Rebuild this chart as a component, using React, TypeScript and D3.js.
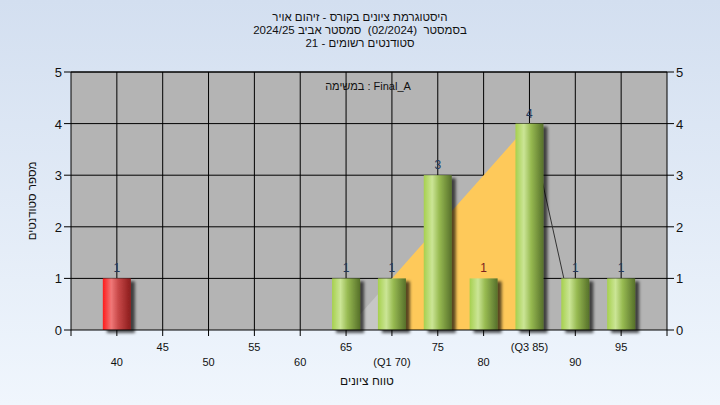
import React from 'react';
import * as d3 from 'd3';

const titleLines = [
  'היסטוגרמת ציונים בקורס - זיהום אויר',
  'בסמסטר  (02/2024)  סמסטר אביב 2024/25',
  'סטודנטים רשומים - 21',
];
const legendText = 'במשימה : Final_A';
const yAxisTitle = 'מספר סטודנטים';
const xAxisTitle = 'טווח ציונים';

const categories = [40, 45, 50, 55, 60, 65, 70, 75, 80, 85, 90, 95];
const counts = [1, 0, 0, 0, 0, 1, 1, 3, 1, 4, 1, 1];
const tickLabels = ['40', '45', '50', '55', '60', '65', '(Q1 70)', '75', '80', '(Q3 85)', '90', '95'];
const failing = [40];
const yTicks = [0, 1, 2, 3, 4, 5];

const curveX = [65, 70, 75, 80, 85, 90];
const curveY = [0, 1, 2, 3, 4, 0];
const q1 = 70;
const q3 = 85;

const W = 720, H = 405;
const left = 71, right = 667, top = 72, bottom = 330;
const font = '"Liberation Sans", Arial, sans-serif';

export default function App() {
  const x = d3.scaleLinear().domain([35, 100]).range([left, right]);
  const y = d3.scaleLinear().domain([0, 5]).range([bottom, top]);
  const barW = 28;

  const pts = curveX.map((cx, i) => [cx, curveY[i]] as [number, number]);
  const inQ = pts.filter(p => p[0] >= q1 && p[0] <= q3);
  const yellowPts: [number, number][] = [[q1, 0], ...inQ, [q3, 0]];
  const leftPts: [number, number][] = [...pts.filter(p => p[0] <= q1), [q1, 0]];
  const rightPts = pts.filter(p => p[0] >= q3);

  const poly = d3.line<[number, number]>().x(d => x(d[0])).y(d => y(d[1]));

  return (
    <svg width={W} height={H} style={{ position: 'absolute', left: 0, top: 0 }} fontFamily={font}>
      <defs>
        <linearGradient id="bg" x1="0" y1="0" x2="0" y2="1">
          <stop offset="0" stopColor="#d3dff0" />
          <stop offset="1" stopColor="#f0f6fd" />
        </linearGradient>
        <linearGradient id="gGreen" x1="0" y1="0" x2="1" y2="0">
          <stop offset="0" stopColor="#a6d04e" />
          <stop offset="0.3" stopColor="#cbe596" />
          <stop offset="0.55" stopColor="#98bb52" />
          <stop offset="1" stopColor="#56702a" />
        </linearGradient>
        <linearGradient id="gRed" x1="0" y1="0" x2="1" y2="0">
          <stop offset="0" stopColor="#ff1a1a" />
          <stop offset="0.3" stopColor="#f07878" />
          <stop offset="0.55" stopColor="#c84848" />
          <stop offset="1" stopColor="#8a1c1c" />
        </linearGradient>
        <filter id="shadow" x="-30%" y="-30%" width="160%" height="160%">
          <feDropShadow dx="4" dy="3" stdDeviation="1.8" floodColor="#000" floodOpacity="0.65" />
        </filter>
      </defs>
      <rect x={0} y={0} width={W} height={H} fill="url(#bg)" />

      {titleLines.map((t, i) => (
        <text key={i} x={360} y={21 + i * 13} textAnchor="middle" fontSize={11.5} fill="#111" direction="rtl" style={{ whiteSpace: 'pre' }}>
          {t}
        </text>
      ))}

      <rect x={left} y={top} width={right - left} height={bottom - top} fill="#b4b4b4" />
      {yTicks.slice(1).map(v => (
        <line key={'hy' + v} x1={left} x2={right} y1={y(v)} y2={y(v)} stroke="#000" strokeWidth={1} />
      ))}
      {categories.map(c => (
        <line key={'vx' + c} x1={x(c)} x2={x(c)} y1={top} y2={bottom} stroke="#000" strokeWidth={1} />
      ))}

      <path d={poly(leftPts)! + 'Z'} fill="#c6c6c6" />
      <path d={poly(yellowPts)! + 'Z'} fill="#fec95a" />
      <path d={poly(rightPts)!} fill="none" stroke="#333" strokeWidth={1} />

      <text x={368} y={90} textAnchor="middle" fontSize={11} fill="#111" direction="ltr">{legendText}</text>

      {categories.map((c, i) => counts[i] > 0 ? (
        <g key={'b' + c}>
          <rect x={x(c) - barW / 2} y={y(counts[i])} width={barW} height={bottom - y(counts[i])}
            fill={failing.includes(c) ? 'url(#gRed)' : 'url(#gGreen)'} filter="url(#shadow)" />
          <text x={x(c)} y={y(counts[i]) - 6} textAnchor="middle" fontSize={12}
            fill={c === 80 ? '#7a2020' : '#24385a'}>{counts[i]}</text>
        </g>
      ) : null)}

      <line x1={left} x2={right} y1={bottom} y2={bottom} stroke="#000" />
      <line x1={left} x2={left} y1={top} y2={bottom} stroke="#000" />
      <line x1={right} x2={right} y1={top} y2={bottom} stroke="#000" />
      <line x1={left} x2={right} y1={top} y2={top} stroke="#000" />

      {yTicks.map(v => (
        <g key={'yt' + v}>
          <line x1={left - 7} x2={left} y1={y(v)} y2={y(v)} stroke="#000" />
          <text x={left - 9} y={y(v) + 5} textAnchor="end" fontSize={13} fill="#111">{v}</text>
          <line x1={right} x2={right + 7} y1={y(v)} y2={y(v)} stroke="#000" />
          <text x={right + 9} y={y(v) + 5} textAnchor="start" fontSize={13} fill="#111">{v}</text>
        </g>
      ))}

      {[35, ...categories, 100].map(c => (
        <line key={'xt' + c} x1={x(c)} x2={x(c)} y1={bottom} y2={bottom + 6} stroke="#000" />
      ))}
      {categories.map((c, i) => (
        <text key={'xl' + c} x={x(c)} y={i % 2 === 1 ? 351 : 366} textAnchor="middle" fontSize={11} fill="#111">
          {tickLabels[i]}
        </text>
      ))}

      <text x={367} y={385} textAnchor="middle" fontSize={12} fill="#111" direction="rtl">{xAxisTitle}</text>
      <text transform={`translate(36, ${(top + bottom) / 2}) rotate(-90)`} textAnchor="middle" fontSize={11.5} fill="#111" direction="rtl">{yAxisTitle}</text>
    </svg>
  );
}
